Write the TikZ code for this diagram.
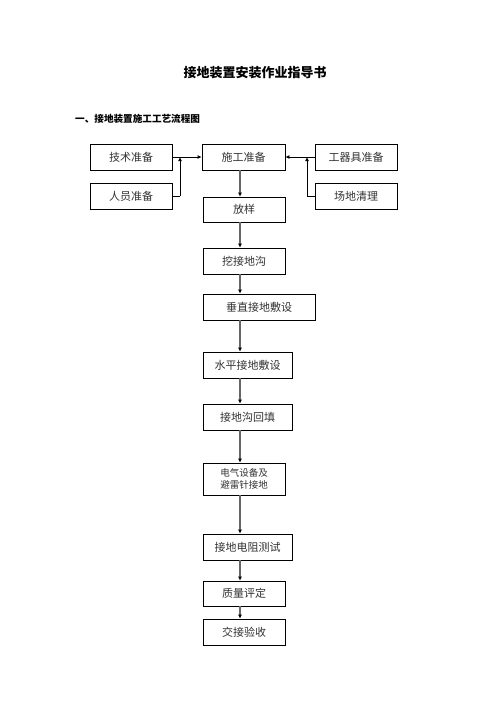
\documentclass[tikz,border=0pt]{standalone}
\usepackage{fontspec}
\newfontfamily\cjk{Noto Sans CJK SC}
\usetikzlibrary{arrows.meta}
\begin{document}
\begin{tikzpicture}[x=1pt,y=-1pt,
  box/.style={draw=black,line width=0.8pt,inner sep=0pt,minimum width=82pt,minimum height=26pt,font=\cjk\fontsize{11pt}{13pt}\selectfont,text=black!80,align=center},
  mainline/.style={draw=black!60,line width=1.4pt,-{Latex[length=4pt,width=4pt,color=black]}},
  sideline/.style={draw=black,line width=0.8pt,-{Latex[length=4pt,width=4pt]}},
  plainline/.style={draw=black,line width=0.8pt}]
\useasboundingbox[fill=white] (0,0) rectangle (496,702);
\node[font=\cjk\bfseries\fontsize{13pt}{15pt}\selectfont] (title) at (255,73) {接地装置安装作业指导书};
\node[font=\cjk\bfseries\fontsize{9.6pt}{11pt}\selectfont,anchor=west,inner sep=0pt] (sub) at (75,119) {一、接地装置施工工艺流程图};

\node[box] (jishu) at (131,157) {技术准备};
\node[box,minimum width=83pt] (shigong) at (243.5,157) {施工准备};
\node[box] (gongqi) at (356,157) {工器具准备};
\node[box] (renyuan) at (131,196) {人员准备};
\node[box] (changdi) at (356,196) {场地清理};
\node[box,minimum height=25pt] (fangyang) at (244,209.5) {放样};
\node[box] (wa) at (244,261) {挖接地沟};
\node[box,minimum width=112pt] (chuizhi) at (259,307) {垂直接地敷设};
\node[box,minimum width=89pt] (shuiping) at (247.5,365) {水平接地敷设};
\node[box,minimum width=89pt] (huitian) at (247.5,417) {接地沟回填};
\node[box,minimum height=32pt,font=\cjk\fontsize{9.5pt}{11.5pt}\selectfont] (dianqi) at (244,479) {电气设备及\\避雷针接地};
\node[box,minimum width=89pt] (dianzu) at (247.5,547) {接地电阻测试};
\node[box,minimum height=25pt] (zhiliang) at (244,593.5) {质量评定};
\node[box] (jiaojie) at (244,632) {交接验收};

\coordinate (cx) at (240,0);
\coordinate (lj) at (180,157);
\coordinate (rj) at (307,157);

% side inputs
\draw[sideline] (jishu.east) -- (shigong.west);
\draw[sideline] (gongqi.west) -- (shigong.east);
\draw[plainline] (renyuan.east) -- (renyuan.east -| lj);
\draw[sideline] (renyuan.east -| lj) -- (lj);
\draw[plainline] (changdi.west) -- (changdi.west -| rj);
\draw[sideline] (changdi.west -| rj) -- (rj);

% main chain
\draw[mainline] (shigong.south -| cx) -- (fangyang.north -| cx);
\draw[mainline] (fangyang.south -| cx) -- (wa.north -| cx);
\draw[mainline] (wa.south -| cx) -- (chuizhi.north -| cx);
\draw[mainline] (chuizhi.south -| cx) -- (shuiping.north -| cx);
\draw[mainline] (shuiping.south -| cx) -- (huitian.north -| cx);
\draw[mainline] (huitian.south -| cx) -- (dianqi.north -| cx);
\draw[mainline] (dianqi.south -| cx) -- (dianzu.north -| cx);
\draw[mainline] (dianzu.south -| cx) -- (zhiliang.north -| cx);
\draw[mainline] (zhiliang.south -| cx) -- (jiaojie.north -| cx);
\end{tikzpicture}
\end{document}
